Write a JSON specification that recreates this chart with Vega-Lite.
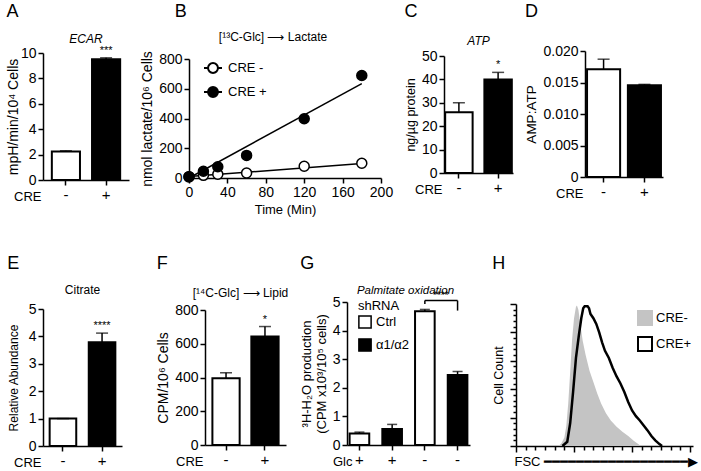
{
  "$schema": "https://vega.github.io/schema/vega-lite/v6.json",
  "padding": {"left": 6, "top": 3, "right": 0, "bottom": 0},
  "config": {
    "font": "Liberation Sans",
    "view": {"stroke": null},
    "axis": {"domainColor": "black", "domainWidth": 1.5, "tickColor": "black", "tickWidth": 1.5, "tickSize": 5, "labelColor": "black", "labelFontSize": 14, "titleColor": "black", "titleFontSize": 13, "titleFontWeight": "normal", "grid": false, "labelPadding": 2, "labelOverlap": false, "labelFlush": false, "labelBound": false},
    "axisX": {"labelAngle": 0},
    "title": {"fontWeight": "normal", "color": "black", "frame": "group"},
    "legend": {"labelColor": "black", "titleColor": "black", "padding": 0}
  },
  "resolve": {"scale": {"fill": "independent"}, "legend": {"fill": "independent"}},
  "vconcat": [
    {
      "resolve": {"scale": {"fill": "independent"}, "legend": {"fill": "independent"}},
      "hconcat": [
        {
          "title": {"text": "A", "anchor": "start", "fontSize": 18, "offset": 4, "frame": "bounds"},
          "resolve": {"legend": {"fill": "independent"}},
          "spacing": 0,
          "vconcat": [
            {"width": 1, "height": 7, "data": {"values": []}, "mark": {"type": "point", "opacity": 0}},
            {
            "width": 86, "height": 127,
            "title": {"text": "ECAR", "fontStyle": "italic", "fontSize": 12, "offset": -1},
            "data": {"values": [{"cre": "-", "v": 2.25, "hi": 2.3, "sig": ""}, {"cre": "+", "v": 9.5, "hi": 9.62, "sig": "***"}]},
            "encoding": {"x": {"field": "cre", "type": "nominal", "sort": ["-", "+"], "scale": {"paddingInner": 0.3, "paddingOuter": 0.22}, "axis": {"title": "CRE", "titleX": -2, "titleY": 16, "titleAlign": "right", "titleBaseline": "middle", "labelFontSize": 15, "labelOverlap": false}}},
            "layer": [
              {"mark": {"type": "bar", "stroke": "black", "strokeWidth": 2},
               "encoding": {"y": {"field": "v", "type": "quantitative", "scale": {"domain": [0, 10]}, "axis": {"values": [0, 2, 4, 6, 8, 10], "tickCount": 100, "format": "d", "title": "mpH/min/10⁴ Cells", "titleFontSize": 14, "titlePadding": 0, "labelOverlap": false}},
                            "fill": {"field": "cre", "type": "nominal", "scale": {"domain": ["-", "+"], "range": ["white", "black"]}, "legend": null}}},
              {"mark": {"type": "rule", "color": "black", "strokeWidth": 1.5}, "encoding": {"y": {"field": "v", "type": "quantitative"}, "y2": {"field": "hi"}}},
              {"mark": {"type": "tick", "color": "black", "thickness": 1.5, "size": 12}, "encoding": {"y": {"field": "hi", "type": "quantitative"}}},
              {"mark": {"type": "text", "baseline": "bottom", "dy": -2, "fontSize": 11}, "encoding": {"y": {"field": "hi", "type": "quantitative"}, "text": {"field": "sig"}}}
            ]
          }]
        },
        {
          "spacing": 11,
          "resolve": {"scale": {"fill": "independent"}, "legend": {"fill": "independent"}},
          "hconcat": [
            {
              "title": {"text": "B", "anchor": "start", "fontSize": 18, "offset": 4, "frame": "bounds", "dx": 34},
              "resolve": {"legend": {"fill": "independent"}},
              "spacing": 0,
              "vconcat": [
                {"width": 1, "height": 5, "data": {"values": []}, "mark": {"type": "point", "opacity": 0}},
                {
                "width": 192, "height": 119,
                "title": {"text": "[¹³C-Glc] ⟶ Lactate", "fontSize": 12, "offset": 7, "dx": -12},
                "layer": [
                  {"data": {"values": [{"s": "CRE -", "t": 0, "v": 10}, {"s": "CRE -", "t": 180, "v": 97}, {"s": "CRE +", "t": 0, "v": 0}, {"s": "CRE +", "t": 180, "v": 635}]},
                   "mark": {"type": "line", "color": "black", "strokeWidth": 1.5},
                   "encoding": {"x": {"field": "t", "type": "quantitative", "scale": {"domain": [0, 200]}, "axis": {"values": [0, 40, 80, 120, 160, 200], "tickCount": 100, "format": "d", "title": "Time (Min)", "labelOverlap": false}},
                                "y": {"field": "v", "type": "quantitative", "scale": {"domain": [0, 800]}, "axis": {"values": [0, 200, 400, 600, 800], "tickCount": 100, "format": "d", "title": "nmol lactate/10⁶ Cells", "titleFontSize": 14, "labelOverlap": false}},
                                "detail": {"field": "s"}}},
                  {"data": {"values": [
                    {"s": "CRE -", "t": 0, "v": 8}, {"s": "CRE -", "t": 15, "v": 18}, {"s": "CRE -", "t": 30, "v": 25}, {"s": "CRE -", "t": 60, "v": 34}, {"s": "CRE -", "t": 120, "v": 79}, {"s": "CRE -", "t": 180, "v": 99},
                    {"s": "CRE +", "t": 0, "v": 9}, {"s": "CRE +", "t": 15, "v": 45}, {"s": "CRE +", "t": 30, "v": 76}, {"s": "CRE +", "t": 60, "v": 152}, {"s": "CRE +", "t": 120, "v": 398}, {"s": "CRE +", "t": 180, "v": 689}]},
                   "mark": {"type": "point", "shape": "circle", "filled": true, "size": 100, "stroke": "black", "strokeWidth": 1.5, "opacity": 1},
                   "encoding": {"x": {"field": "t", "type": "quantitative"}, "y": {"field": "v", "type": "quantitative"},
                                "fill": {"field": "s", "type": "nominal", "scale": {"domain": ["CRE -", "CRE +"], "range": ["white", "black"]},
                                         "legend": {"title": null, "orient": "none", "legendX": 14, "legendY": -1, "symbolType": "M-1,0L-0.55,0M0.55,0L1,0M0.55,0A0.55,0.55,0,1,1,-0.55,0A0.55,0.55,0,1,1,0.55,0Z", "symbolSize": 324, "symbolStrokeColor": "black", "symbolStrokeWidth": 2, "labelFontSize": 13, "rowPadding": 5, "labelOffset": 5}}}}
                ]
              }]
            },
            {
              "spacing": 11,
              "resolve": {"scale": {"fill": "independent"}, "legend": {"fill": "independent"}},
              "hconcat": [
                {
                  "title": {"text": "C", "anchor": "start", "fontSize": 18, "offset": 4, "frame": "bounds"},
                  "resolve": {"legend": {"fill": "independent"}},
                  "spacing": 0,
                  "vconcat": [
                    {"width": 1, "height": 10, "data": {"values": []}, "mark": {"type": "point", "opacity": 0}},
                    {
                    "width": 69, "height": 117,
                    "title": {"text": "ATP", "fontStyle": "italic", "fontSize": 12, "offset": 1},
                    "data": {"values": [{"cre": "-", "v": 26, "hi": 30, "sig": ""}, {"cre": "+", "v": 40, "hi": 43, "sig": "*"}]},
                    "encoding": {"x": {"field": "cre", "type": "nominal", "sort": ["-", "+"], "scale": {"paddingInner": 0.3, "paddingOuter": 0.03}, "axis": {"title": "CRE", "titleX": -2, "titleY": 16, "titleAlign": "right", "titleBaseline": "middle", "labelFontSize": 15, "labelOverlap": false}}},
                    "layer": [
                      {"mark": {"type": "bar", "stroke": "black", "strokeWidth": 2},
                       "encoding": {"y": {"field": "v", "type": "quantitative", "scale": {"domain": [0, 50]}, "axis": {"values": [0, 10, 20, 30, 40, 50], "tickCount": 100, "format": "d", "title": "ng/µg protein", "titleFontSize": 12.5, "labelOverlap": false}},
                                    "fill": {"field": "cre", "type": "nominal", "scale": {"domain": ["-", "+"], "range": ["white", "black"]}, "legend": null}}},
                      {"mark": {"type": "rule", "color": "black", "strokeWidth": 1.5}, "encoding": {"y": {"field": "v", "type": "quantitative"}, "y2": {"field": "hi"}}},
                      {"mark": {"type": "tick", "color": "black", "thickness": 1.5, "size": 12}, "encoding": {"y": {"field": "hi", "type": "quantitative"}}},
                      {"mark": {"type": "text", "baseline": "bottom", "dy": -2, "fontSize": 11}, "encoding": {"y": {"field": "hi", "type": "quantitative"}, "text": {"field": "sig"}}}
                    ]
                  }]
                },
                {
                  "title": {"text": "D", "anchor": "start", "fontSize": 18, "offset": 4, "frame": "bounds"},
                  "resolve": {"legend": {"fill": "independent"}},
                  "spacing": 0,
                  "vconcat": [
                    {"width": 1, "height": 19, "data": {"values": []}, "mark": {"type": "point", "opacity": 0}},
                    {
                    "width": 78, "height": 126,
                    "data": {"values": [{"cre": "-", "v": 0.0171, "hi": 0.0187}, {"cre": "+", "v": 0.01456, "hi": 0.0147}]},
                    "encoding": {"x": {"field": "cre", "type": "nominal", "sort": ["-", "+"], "scale": {"paddingInner": 0.19, "paddingOuter": 0.05}, "axis": {"title": "CRE", "titleX": -2, "titleY": 16, "titleAlign": "right", "titleBaseline": "middle", "labelFontSize": 15, "labelOverlap": false}}},
                    "layer": [
                      {"mark": {"type": "bar", "stroke": "black", "strokeWidth": 2},
                       "encoding": {"y": {"field": "v", "type": "quantitative", "scale": {"domain": [0, 0.02]}, "axis": {"values": [0, 0.005, 0.01, 0.015, 0.02], "tickCount": 100, "labelExpr": "datum.value === 0 ? '0' : format(datum.value, '.3f')", "title": "AMP:ATP", "titleFontSize": 13.5, "labelOverlap": false}},
                                    "fill": {"field": "cre", "type": "nominal", "scale": {"domain": ["-", "+"], "range": ["white", "black"]}, "legend": null}}},
                      {"mark": {"type": "rule", "color": "black", "strokeWidth": 1.5}, "encoding": {"y": {"field": "v", "type": "quantitative"}, "y2": {"field": "hi"}}},
                      {"mark": {"type": "tick", "color": "black", "thickness": 1.5, "size": 12}, "encoding": {"y": {"field": "hi", "type": "quantitative"}}}
                    ]
                  }]
                }
              ]
            }
          ]
        }
      ],
      "spacing": 11
    },
    {
      "resolve": {"scale": {"fill": "independent"}, "legend": {"fill": "independent"}},
      "hconcat": [
        {
          "title": {"text": "E", "anchor": "start", "fontSize": 18, "offset": 4, "frame": "bounds"},
          "resolve": {"legend": {"fill": "independent"}},
          "spacing": 0,
          "vconcat": [
            {"width": 1, "height": 7, "data": {"values": []}, "mark": {"type": "point", "opacity": 0}},
            {
            "width": 79, "height": 137,
            "title": {"text": "Citrate", "fontSize": 12, "offset": 5},
            "data": {"values": [{"cre": "-", "v": 1.0, "hi": 1.0, "sig": ""}, {"cre": "+", "v": 3.79, "hi": 4.12, "sig": "****"}]},
            "encoding": {"x": {"field": "cre", "type": "nominal", "sort": ["-", "+"], "scale": {"paddingInner": 0.32, "paddingOuter": 0.17}, "axis": {"title": "CRE", "titleX": -2, "titleY": 16, "titleAlign": "right", "titleBaseline": "middle", "labelFontSize": 15, "labelOverlap": false}}},
            "layer": [
              {"mark": {"type": "bar", "stroke": "black", "strokeWidth": 2},
               "encoding": {"y": {"field": "v", "type": "quantitative", "scale": {"domain": [0, 5]}, "axis": {"values": [0, 1, 2, 3, 4, 5], "tickCount": 100, "format": "d", "title": "Relative Abundance", "titleFontSize": 12, "titlePadding": 8, "labelOverlap": false}},
                            "fill": {"field": "cre", "type": "nominal", "scale": {"domain": ["-", "+"], "range": ["white", "black"]}, "legend": null}}},
              {"mark": {"type": "rule", "color": "black", "strokeWidth": 1.5}, "encoding": {"y": {"field": "v", "type": "quantitative"}, "y2": {"field": "hi"}}},
              {"mark": {"type": "tick", "color": "black", "thickness": 1.5, "size": 12}, "encoding": {"y": {"field": "hi", "type": "quantitative"}}},
              {"mark": {"type": "text", "baseline": "bottom", "dy": -2, "fontSize": 11}, "encoding": {"y": {"field": "hi", "type": "quantitative"}, "text": {"field": "sig"}}}
            ]
          }]
        },
        {
          "spacing": 11,
          "resolve": {"scale": {"fill": "independent"}, "legend": {"fill": "independent"}},
          "hconcat": [
            {
              "title": {"text": "F", "anchor": "start", "fontSize": 18, "offset": 4, "frame": "bounds"},
              "resolve": {"legend": {"fill": "independent"}},
              "spacing": 0,
              "vconcat": [
                {"width": 1, "height": 10, "data": {"values": []}, "mark": {"type": "point", "opacity": 0}},
                {
                "width": 81, "height": 135,
                "title": {"text": "[¹⁴C-Glc] ⟶ Lipid", "fontSize": 12, "offset": 3, "dx": -5},
                "data": {"values": [{"cre": "-", "v": 395, "hi": 428, "sig": ""}, {"cre": "+", "v": 643, "hi": 702, "sig": "*"}]},
                "encoding": {"x": {"field": "cre", "type": "nominal", "sort": ["-", "+"], "scale": {"paddingInner": 0.3, "paddingOuter": 0.19}, "axis": {"title": "CRE", "titleX": -2, "titleY": 16, "titleAlign": "right", "titleBaseline": "middle", "labelFontSize": 15, "labelOverlap": false}}},
                "layer": [
                  {"mark": {"type": "bar", "stroke": "black", "strokeWidth": 2},
                   "encoding": {"y": {"field": "v", "type": "quantitative", "scale": {"domain": [0, 800]}, "axis": {"values": [0, 200, 400, 600, 800], "tickCount": 100, "format": "d", "title": "CPM/10⁶ Cells", "titleFontSize": 14, "labelOverlap": false}},
                                "fill": {"field": "cre", "type": "nominal", "scale": {"domain": ["-", "+"], "range": ["white", "black"]}, "legend": null}}},
                  {"mark": {"type": "rule", "color": "black", "strokeWidth": 1.5}, "encoding": {"y": {"field": "v", "type": "quantitative"}, "y2": {"field": "hi"}}},
                  {"mark": {"type": "tick", "color": "black", "thickness": 1.5, "size": 12}, "encoding": {"y": {"field": "hi", "type": "quantitative"}}},
                  {"mark": {"type": "text", "baseline": "bottom", "dy": -2, "fontSize": 11}, "encoding": {"y": {"field": "hi", "type": "quantitative"}, "text": {"field": "sig"}}}
                ]
              }]
            },
            {
              "spacing": 22,
              "resolve": {"scale": {"fill": "independent"}, "legend": {"fill": "independent"}},
              "hconcat": [
                {
                  "title": {"text": "G", "anchor": "start", "fontSize": 18, "offset": 4, "frame": "bounds"},
                  "resolve": {"legend": {"fill": "independent"}},
                  "spacing": 0,
                  "vconcat": [
                    {"width": 1, "height": 8, "data": {"values": []}, "mark": {"type": "point", "opacity": 0}},
                    {
                    "width": 123, "height": 143,
                    "title": {"text": "Palmitate oxidation", "fontStyle": "italic", "fontSize": 11.5, "offset": -6, "dx": -3},
                    "encoding": {"x": {"field": "id", "type": "nominal", "scale": {"domain": ["1", "2", "3", "4"], "paddingInner": 0.4, "paddingOuter": 0.08}, "axis": {"title": "Glc", "titleX": 5, "titleY": 16, "titleAlign": "right", "titleBaseline": "middle", "labelFontSize": 15, "labelOverlap": false, "labelExpr": "datum.value === '1' || datum.value === '2' ? '+' : '-'"}}},
                    "layer": [
                      {"data": {"values": [{"id": "1", "sh": "Ctrl", "v": 0.4, "hi": 0.45}, {"id": "2", "sh": "α1/α2", "v": 0.56, "hi": 0.72}, {"id": "3", "sh": "Ctrl", "v": 4.68, "hi": 4.74}, {"id": "4", "sh": "α1/α2", "v": 2.45, "hi": 2.57}]},
                       "layer": [
                         {"mark": {"type": "bar", "stroke": "black", "strokeWidth": 2},
                          "encoding": {"y": {"field": "v", "type": "quantitative", "scale": {"domain": [0, 5]}, "axis": {"values": [0, 1, 2, 3, 4, 5], "tickCount": 100, "format": "d", "title": ["³H-H₂O production", "(CPM x10³/10⁵ cells)"], "labelOverlap": false}},
                                       "fill": {"field": "sh", "type": "nominal", "scale": {"domain": ["Ctrl", "α1/α2"], "range": ["white", "black"]},
                                                "legend": {"title": "shRNA", "orient": "none", "legendX": 11, "legendY": -2, "symbolType": "square", "symbolSize": 150, "symbolStrokeColor": "black", "symbolStrokeWidth": 1.5, "labelFontSize": 13, "titleFontSize": 13, "titleFontWeight": "normal", "rowPadding": 3, "titlePadding": 2}}}},
                         {"mark": {"type": "rule", "color": "black", "strokeWidth": 1.5}, "encoding": {"y": {"field": "v", "type": "quantitative"}, "y2": {"field": "hi"}}},
                         {"mark": {"type": "tick", "color": "black", "thickness": 1.5, "size": 10}, "encoding": {"y": {"field": "hi", "type": "quantitative"}}}
                       ]},
                      {"data": {"values": [{"a": "3", "b": "4", "y": 5.05, "sig": "****"}]},
                       "layer": [
                         {"mark": {"type": "rule", "color": "black", "strokeWidth": 1.5}, "encoding": {"x": {"field": "a"}, "x2": {"field": "b"}, "y": {"field": "y", "type": "quantitative"}}},
                         {"mark": {"type": "text", "baseline": "bottom", "dy": 0, "dx": 16, "fontSize": 10}, "encoding": {"x": {"field": "a"}, "y": {"field": "y", "type": "quantitative"}, "text": {"field": "sig"}}}
                       ]},
                      {"data": {"values": [{"a": "3", "y1": 4.93, "y2": 5.05}, {"a": "4", "y1": 4.7, "y2": 5.05}]},
                       "mark": {"type": "rule", "color": "black", "strokeWidth": 1.5},
                       "encoding": {"x": {"field": "a"}, "y": {"field": "y1", "type": "quantitative"}, "y2": {"field": "y2"}}}
                    ]
                  }]
                },
                {
                  "title": {"text": "H", "anchor": "start", "fontSize": 18, "offset": 4, "frame": "bounds"},
                  "resolve": {"legend": {"fill": "independent"}},
                  "spacing": 0,
                  "vconcat": [
                    {"width": 1, "height": 24, "data": {"values": []}, "mark": {"type": "point", "opacity": 0}},
                    {
                    "width": 177, "height": 142,
                    "data": {"values": [
                      {"s": "CRE-", "x": 44, "y": 0}, {"s": "CRE-", "x": 47, "y": 2}, {"s": "CRE-", "x": 50, "y": 6}, {"s": "CRE-", "x": 52, "y": 14}, {"s": "CRE-", "x": 54, "y": 30}, {"s": "CRE-", "x": 56, "y": 52}, {"s": "CRE-", "x": 58, "y": 75}, {"s": "CRE-", "x": 60, "y": 90}, {"s": "CRE-", "x": 62, "y": 98}, {"s": "CRE-", "x": 63, "y": 99}, {"s": "CRE-", "x": 64.5, "y": 96}, {"s": "CRE-", "x": 66.5, "y": 86}, {"s": "CRE-", "x": 69, "y": 74}, {"s": "CRE-", "x": 72, "y": 64}, {"s": "CRE-", "x": 76, "y": 53}, {"s": "CRE-", "x": 80, "y": 45}, {"s": "CRE-", "x": 84, "y": 37}, {"s": "CRE-", "x": 88, "y": 30}, {"s": "CRE-", "x": 93, "y": 23}, {"s": "CRE-", "x": 98, "y": 18}, {"s": "CRE-", "x": 104, "y": 13.5}, {"s": "CRE-", "x": 110, "y": 10}, {"s": "CRE-", "x": 116, "y": 7}, {"s": "CRE-", "x": 122, "y": 3.5}, {"s": "CRE-", "x": 126, "y": 1.5}, {"s": "CRE-", "x": 129, "y": 0},
                      {"s": "CRE+", "x": 48, "y": 0}, {"s": "CRE+", "x": 53, "y": 3}, {"s": "CRE+", "x": 56, "y": 16}, {"s": "CRE+", "x": 59, "y": 38}, {"s": "CRE+", "x": 62, "y": 62}, {"s": "CRE+", "x": 65, "y": 78}, {"s": "CRE+", "x": 67.5, "y": 90}, {"s": "CRE+", "x": 69.5, "y": 97}, {"s": "CRE+", "x": 71, "y": 98.5}, {"s": "CRE+", "x": 74, "y": 98.5}, {"s": "CRE+", "x": 75.5, "y": 97}, {"s": "CRE+", "x": 77, "y": 93}, {"s": "CRE+", "x": 80, "y": 90}, {"s": "CRE+", "x": 83, "y": 86}, {"s": "CRE+", "x": 86, "y": 80}, {"s": "CRE+", "x": 89, "y": 73}, {"s": "CRE+", "x": 92, "y": 67}, {"s": "CRE+", "x": 96, "y": 62}, {"s": "CRE+", "x": 100, "y": 55}, {"s": "CRE+", "x": 104, "y": 49}, {"s": "CRE+", "x": 108, "y": 44}, {"s": "CRE+", "x": 112, "y": 38}, {"s": "CRE+", "x": 116, "y": 31}, {"s": "CRE+", "x": 120, "y": 25}, {"s": "CRE+", "x": 124, "y": 21}, {"s": "CRE+", "x": 128, "y": 18}, {"s": "CRE+", "x": 132, "y": 14.5}, {"s": "CRE+", "x": 136, "y": 11}, {"s": "CRE+", "x": 140, "y": 7}, {"s": "CRE+", "x": 144, "y": 4}, {"s": "CRE+", "x": 148, "y": 1.5}, {"s": "CRE+", "x": 151, "y": 0}
                    ]},
                    "encoding": {
                      "x": {"field": "x", "type": "quantitative", "scale": {"domain": [0, 183]}, "axis": {"values": [0, 10, 20, 30, 40, 50, 60, 70, 80, 90, 100, 110, 120, 130, 140, 150, 160, 170, 180], "tickCount": 100, "labels": false, "tickSize": {"condition": {"test": "datum.value % 60 === 0", "value": 6}, "value": 4}, "title": "FSC ━━━━━━━━━━━━━━━━━━▶", "titleAnchor": "start", "titleAlign": "left", "titleX": -2, "titleY": 15, "titleBaseline": "middle", "titleFontSize": 13}},
                      "y": {"field": "y", "type": "quantitative", "scale": {"domain": [0, 100]}, "axis": {"values": [0, 4, 8, 12, 16, 20, 24, 28, 32, 36, 40, 44, 48, 52, 56, 60, 64, 68, 72, 76, 80, 84, 88, 92, 96, 100], "tickCount": 100, "labels": false, "tickSize": {"condition": {"test": "datum.value % 20 === 0", "value": 6}, "value": 3}, "title": "Cell Count", "titleFontSize": 12.5}}
                    },
                    "layer": [
                      {"transform": [{"filter": "datum.s === 'CRE-'"}],
                       "mark": {"type": "area", "opacity": 1},
                       "encoding": {"fill": {"field": "s", "type": "nominal", "scale": {"domain": ["CRE-", "CRE+"], "range": ["#c4c4c4", "white"]},
                                             "legend": {"title": null, "orient": "none", "legendX": 121, "legendY": 6, "symbolType": "square", "symbolSize": 196, "symbolStrokeWidth": 2, "labelFontSize": 13, "rowPadding": 4, "labelOffset": 3, "symbolOpacity": 1,
                                                        "encode": {"symbols": {"update": {"stroke": {"signal": "datum.value === 'CRE+' ? 'black' : '#c4c4c4'"}}}}}}}},
                      {"transform": [{"filter": "datum.s === 'CRE+'"}],
                       "mark": {"type": "line", "color": "black", "strokeWidth": 2.5}}
                    ]
                  }]
                }
              ]
            }
          ]
        }
      ],
      "spacing": 34
    }
  ],
  "spacing": 39
}
